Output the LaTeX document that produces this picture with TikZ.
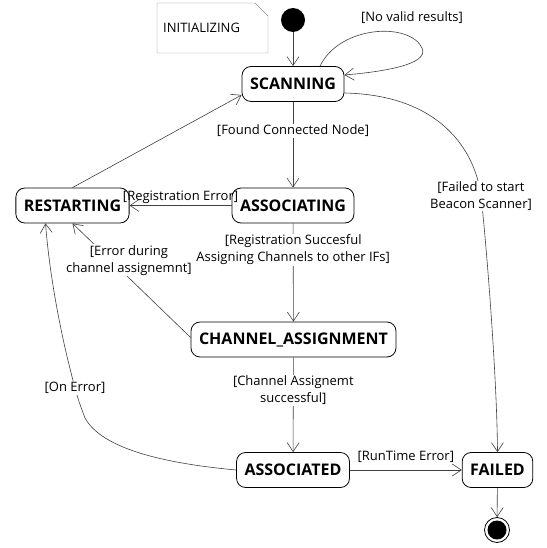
\documentclass[tikz,border=0pt]{standalone}
\usepackage{fontspec}
\setmainfont{Open Sans}
\usetikzlibrary{arrows.meta}
\begin{document}
\begin{tikzpicture}[x=1pt,y=-1pt,
    state/.style={draw,rounded corners=9pt,line width=0.8pt,font=\bfseries\fontsize{16}{18}\selectfont,minimum height=35pt,inner xsep=8pt},
    trans/.style={draw=black!75,line width=0.6pt,-{Straight Barb[length=9pt,width=12pt]}},
    guard/.style={font=\fontsize{13}{17}\selectfont,fill=white,inner sep=1pt,align=center},
    lbl/.style={font=\fontsize{13}{17}\selectfont,inner sep=1pt}]
    \useasboundingbox (0,0) rectangle (546,548);
    \draw[black!45,fill=white] (157,3) -- (255,3) -- (268,16) -- (268,53) -- (157,53) -- cycle;
    \node[lbl,anchor=west] (note) at (162,28) {INITIALIZING};
    \node[circle,fill,minimum size=24pt,inner sep=0pt] (init) at (293,20) {};
    \node[state] (scan) at (293,84) {SCANNING};
    \node[state] (rest) at (72.5,205.5) {RESTARTING};
    \node[state] (assoc) at (293,205.5) {ASSOCIATING};
    \node[state] (chan) at (293.5,339.5) {CHANNEL\_ASSIGNMENT};
    \node[state] (asd) at (293,470) {ASSOCIATED};
    \node[state] (fail) at (497.5,470) {FAILED};
    \node[circle,draw,line width=0.8pt,minimum size=25pt,inner sep=0pt] (final) at (497,530) {};
    \fill (final.center) circle[radius=9.5pt];
    \draw[trans] (init) -- (scan);
    \draw[trans] ([xshift=27pt]scan.north) .. controls (340,25) and (410,22) .. (422,48)
        .. controls (430,65) and (380,72) .. ([yshift=9pt]scan.east)
        node[lbl] at (412,18) {[No valid results]};
    \draw[trans] ([yshift=-9pt]scan.east) .. controls (440,95) and (475,150) .. (481,196)
        node[guard] {[Failed to start\\Beacon Scanner]}
        .. controls (487,250) and (497,380) .. (fail.north);
    \draw[trans] (scan) -- node[guard,pos=0.34] {[Found Connected Node]} (assoc);
    \draw[trans] (rest.north) -- ([yshift=-11pt]scan.west);
    \draw[trans] (assoc) -- node[lbl,above=1pt] {[Registration Error]} (rest);
    \draw[trans] (assoc) -- node[guard,pos=0.27] {[Registration Succesful\\Assigning Channels to other IFs]} (chan);
    \draw[trans] ([yshift=2pt]chan.west) -- node[guard,pos=0.675,xshift=18pt] {[Error during\\channel assignemnt]} (rest.south);
    \draw[trans] (chan) -- node[guard,pos=0.35] {[Channel Assignemt\\successful]} (asd);
    \draw[trans] (asd.west) .. controls (150,462) and (100,445) .. (85,418)
        .. controls (80,405) and (77,396) .. (75,388) node[guard] {[On Error]}
        .. controls (62,340) and (50,280) .. ([xshift=-27pt]rest.south);
    \draw[trans] (asd) -- node[lbl,above=6pt] {[RunTime Error]} (fail);
    \draw[trans] (fail) -- (final);
\end{tikzpicture}
\end{document}
